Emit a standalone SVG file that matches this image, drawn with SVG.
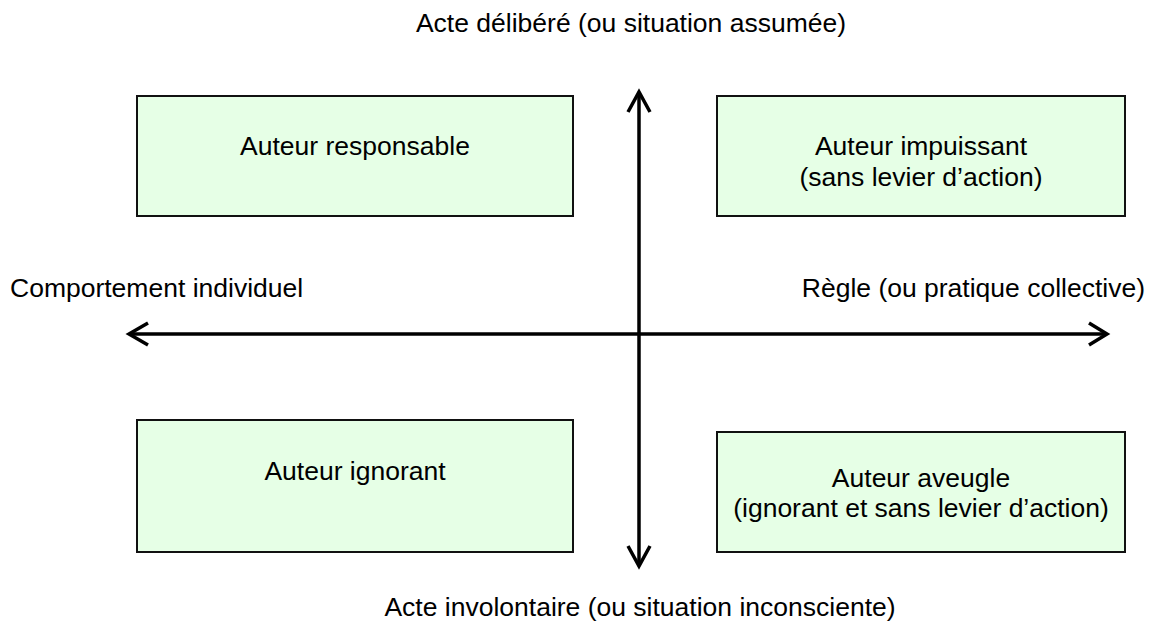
<svg xmlns="http://www.w3.org/2000/svg" width="1152" height="637" viewBox="0 0 1152 637">
<style>
.box{fill:#e6ffe6;stroke:#111;stroke-width:2}
.t{font-family:"Liberation Sans",Arial,sans-serif;font-size:26.5px;fill:#000}
.ax{stroke:#000;stroke-width:3.5;fill:none;stroke-linecap:butt}
.hd{stroke:#000;stroke-width:3.5;fill:none;stroke-linejoin:miter}
</style>
<rect width="1152" height="637" fill="#fff"/>
<g id="connectors">
<line class="ax" x1="639" y1="93" x2="639" y2="565"/>
<polyline class="hd" points="628,112 639,92 650,112"/>
<polyline class="hd" points="628,546 639,566 650,546"/>
<line class="ax" x1="131" y1="334" x2="1105" y2="334"/>
<polyline class="hd" points="148,323 129,334 148,345"/>
<polyline class="hd" points="1089,323 1107,334 1089,345"/>
</g>
<g id="label-top"><text class="t" x="631" y="32" text-anchor="middle">Acte délibéré (ou situation assumée)</text></g>
<g id="label-left"><text class="t" x="10" y="297">Comportement individuel</text></g>
<g id="label-right"><text class="t" x="1145" y="297" text-anchor="end">Règle (ou pratique collective)</text></g>
<g id="label-bottom"><text class="t" x="640" y="616" text-anchor="middle">Acte involontaire (ou situation inconsciente)</text></g>
<g id="n1"><rect class="box" x="137" y="96" width="436" height="120"/><text class="t" x="355" y="155" text-anchor="middle">Auteur responsable</text></g>
<g id="n2"><rect class="box" x="717" y="96" width="408" height="120"/><text class="t" x="921" y="155" text-anchor="middle">Auteur impuissant</text><text class="t" x="921" y="186" text-anchor="middle">(sans levier d’action)</text></g>
<g id="n3"><rect class="box" x="137" y="420" width="436" height="132"/><text class="t" x="355" y="480" text-anchor="middle">Auteur ignorant</text></g>
<g id="n4"><rect class="box" x="717" y="432" width="408" height="120"/><text class="t" x="921" y="487" text-anchor="middle">Auteur aveugle</text><text class="t" x="921" y="517" text-anchor="middle">(ignorant et sans levier d’action)</text></g>
</svg>
